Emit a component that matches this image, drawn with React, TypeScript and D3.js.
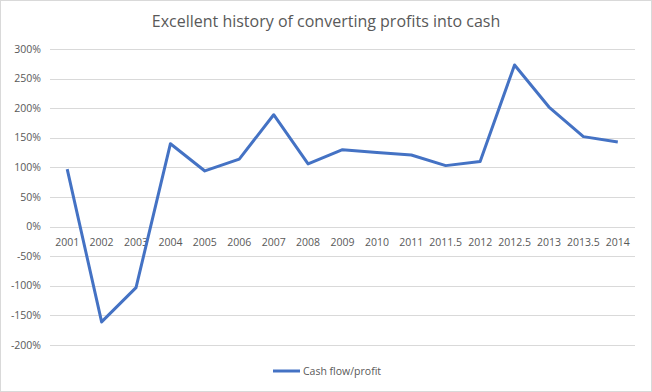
import * as d3 from "d3";

const categories = ["2001", "2002", "2003", "2004", "2005", "2006", "2007", "2008", "2009", "2010", "2011", "2011.5", "2012", "2012.5", "2013", "2013.5", "2014"];
const cashFlowProfit = [97, -161, -103, 140, 94, 114, 189, 106, 130, 125, 121, 103, 110, 273, 202, 152, 143];
const yTicks = [-200, -150, -100, -50, 0, 50, 100, 150, 200, 250, 300];

const width = 652;
const height = 392;
const margin = { top: 49, right: 17, bottom: 47, left: 50 };
const font = "'Open Sans', 'Liberation Sans', sans-serif";
const textColor = "#595959";

export default function App() {
  const x = d3
    .scaleBand()
    .domain(categories)
    .range([margin.left, width - margin.right]);
  const y = d3
    .scaleLinear()
    .domain([-200, 300])
    .range([height - margin.bottom, margin.top]);

  const line = d3
    .line<number>()
    .x((_, i) => x(categories[i])! + x.bandwidth() / 2)
    .y((d) => y(d));

  return (
    <svg
      width={width}
      height={height}
      style={{ position: "absolute", left: 0, top: 0, background: "#fff" }}
    >
      <rect x={0.5} y={0.5} width={width - 1} height={height - 1} fill="#fff" stroke="#d9d9d9" />
      <text
        x={width / 2}
        y={27}
        textAnchor="middle"
        fontFamily={font}
        fontSize={16}
        fill={textColor}
      >
        Excellent history of converting profits into cash
      </text>

      {/* gridlines + y labels */}
      {yTicks.map((t) => (
        <g key={t}>
          <line
            x1={margin.left}
            x2={width - margin.right}
            y1={Math.round(y(t)) + 0.5}
            y2={Math.round(y(t)) + 0.5}
            stroke="#d9d9d9"
          />
          <text
            x={41}
            y={y(t)}
            dy="0.35em"
            textAnchor="end"
            fontFamily={font}
            fontSize={10.5}
            fill={textColor}
          >
            {t}%
          </text>
        </g>
      ))}

      {/* category labels sit next to the zero line */}
      {categories.map((c) => (
        <text
          key={c}
          x={x(c)! + x.bandwidth() / 2}
          y={y(0) + 16}
          dy="0.35em"
          textAnchor="middle"
          fontFamily={font}
          fontSize={10.5}
          fill={textColor}
        >
          {c}
        </text>
      ))}

      <path
        d={line(cashFlowProfit)!}
        fill="none"
        stroke="#4472C4"
        strokeWidth={3}
        strokeLinejoin="round"
      />

      {/* legend */}
      <line x1={273} x2={300} y1={371} y2={371} stroke="#4472C4" strokeWidth={3} />
      <text x={303} y={371} dy="0.35em" fontFamily={font} fontSize={10.5} fill={textColor}>
        Cash flow/profit
      </text>
    </svg>
  );
}
